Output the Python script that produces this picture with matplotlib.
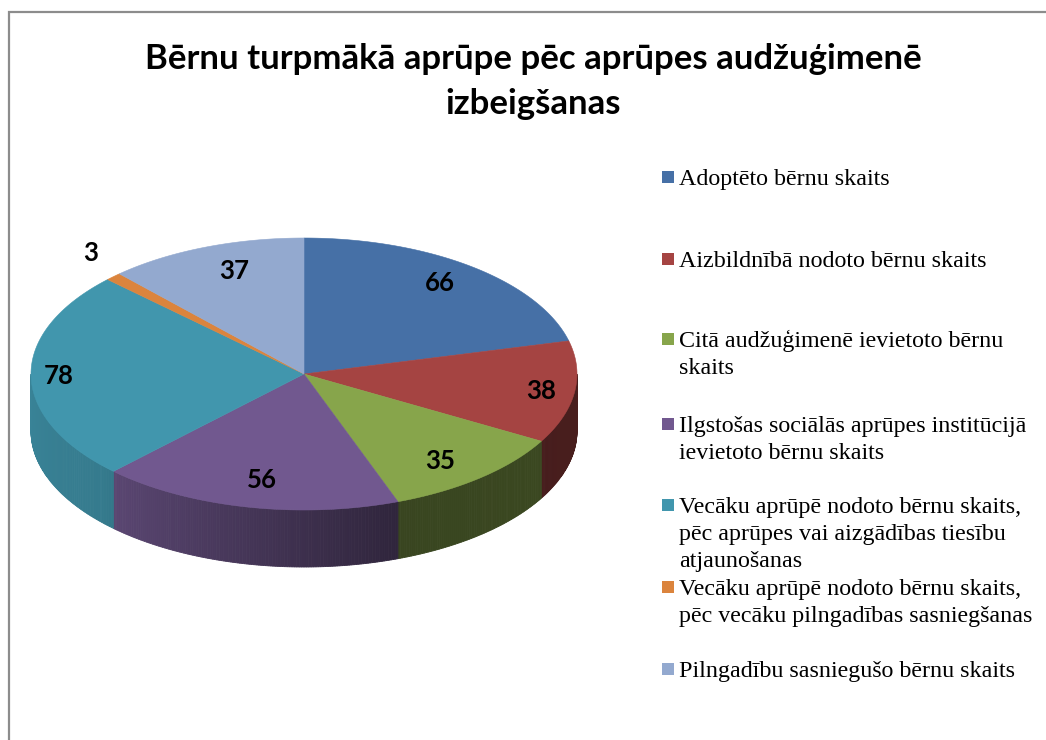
import numpy as np
import matplotlib
matplotlib.use("Agg")
import matplotlib.pyplot as plt
from matplotlib.patches import Polygon, Rectangle
from matplotlib.lines import Line2D
from matplotlib.colors import to_rgb

# ---------------- data ----------------
title = "Bērnu turpmākā aprūpe pēc aprūpes audžuģimenē\nizbeigšanas"
categories = [
    "Adoptēto bērnu skaits",
    "Aizbildnībā nodoto bērnu skaits",
    "Citā audžuģimenē ievietoto bērnu\nskaits",
    "Ilgstošas sociālās aprūpes institūcijā\nievietoto bērnu skaits",
    "Vecāku aprūpē nodoto bērnu skaits,\npēc aprūpes vai aizgādības tiesību\natjaunošanas",
    "Vecāku aprūpē nodoto bērnu skaits,\npēc vecāku pilngadības sasniegšanas",
    "Pilngadību sasniegušo bērnu skaits",
]
values = [66, 38, 35, 56, 78, 3, 37]
colors = ["#4670a6", "#a54442", "#87a54b", "#71588f", "#4196ad", "#db843d", "#93a9cf"]

# ---------------- layout ----------------
W, H = 1046, 740
fig = plt.figure(figsize=(W / 100, H / 100), dpi=100)
ax = fig.add_axes([0, 0, 1, 1])
ax.set_xlim(0, W)
ax.set_ylim(H, 0)
ax.axis("off")

# frame
ax.add_line(Line2D([9, 9, W], [H, 12, 12], color="#8c8c8c", lw=1.6, solid_joinstyle="miter"))

# title (one text per line)
title_baselines = [69, 114]
for line, yb in zip(title.split("\n"), title_baselines):
    ax.text(533, yb, line, ha="center", va="baseline", fontsize=25, fontweight="bold",
            family=["Lato", "DejaVu Sans"], color="black")

# pie geometry (pixel space)
cx, cy, rx, ry, depth = 304, 374, 273, 136, 57

def pt(theta_deg, dy=0.0):
    t = np.radians(theta_deg)
    return cx + rx * np.cos(t), cy - ry * np.sin(t) + dy

total = float(sum(values))
spans = [v / total * 360.0 for v in values]
starts = []
a = 90.0
for s in spans:
    starts.append(a)
    a -= s

def shade(theta):
    th = theta % 360
    return np.interp(th, [180, 222, 290, 360], [0.88, 0.82, 0.42, 0.44])

# side walls (front half)
for st, sp, col in zip(starts, spans, colors):
    hi = st
    lo = st - sp
    for off in (0, -360, 360):
        h2, l2 = hi + off, lo + off
        a0 = max(l2, -180.0)
        a1 = min(h2, 0.0)
        if a1 > a0:
            n = max(2, int((a1 - a0) / 0.5))
            angs = np.linspace(a0, a1, n + 1)
            base = np.array(to_rgb(col))
            for i in range(n):
                t0, t1 = angs[i], angs[i + 1]
                p0 = pt(t0); p1 = pt(t1)
                q1 = pt(t1, depth); q0 = pt(t0, depth)
                c = base * shade(0.5 * (t0 + t1))
                ax.add_patch(Polygon([p0, p1, q1, q0], closed=True, facecolor=c,
                                     edgecolor=c, lw=0.6))

# top faces
for st, sp, col in zip(starts, spans, colors):
    angs = np.linspace(st, st - sp, max(3, int(sp * 2)))
    pts = [(cx, cy)] + [pt(t) for t in angs]
    ax.add_patch(Polygon(pts, closed=True, facecolor=col, edgecolor=col, lw=0.4))

# data labels (radius fractions along x and y of the ellipse)
label_fx = [0.81, 0.876, 0.77, 0.74, 0.90, 1.12, 0.71]
label_fy = [0.845, 0.93, 0.84, 0.80, 0.90, 1.24, 0.81]
for st, sp, v, fx, fy in zip(starts, spans, values, label_fx, label_fy):
    mid = np.radians(st - sp / 2)
    x = cx + rx * fx * np.cos(mid)
    y = cy - ry * fy * np.sin(mid)
    ax.text(x, y, str(v), ha="center", va="center", fontsize=18.5, fontweight="bold",
            family=["Lato", "DejaVu Sans"], color="black")

# legend
leg_baselines = [185, 267, 347, 432, 513, 595, 677]
line_h = 27
for lab, col, yb in zip(categories, colors, leg_baselines):
    ax.add_patch(Rectangle((662, yb - 14), 12, 12, facecolor=col, edgecolor="none"))
    for k, line in enumerate(lab.split("\n")):
        ax.text(679, yb + k * line_h, line, ha="left", va="baseline", fontsize=17.3,
                family=["Liberation Serif", "DejaVu Serif"], color="black")

fig.savefig("out.png", dpi=100)
